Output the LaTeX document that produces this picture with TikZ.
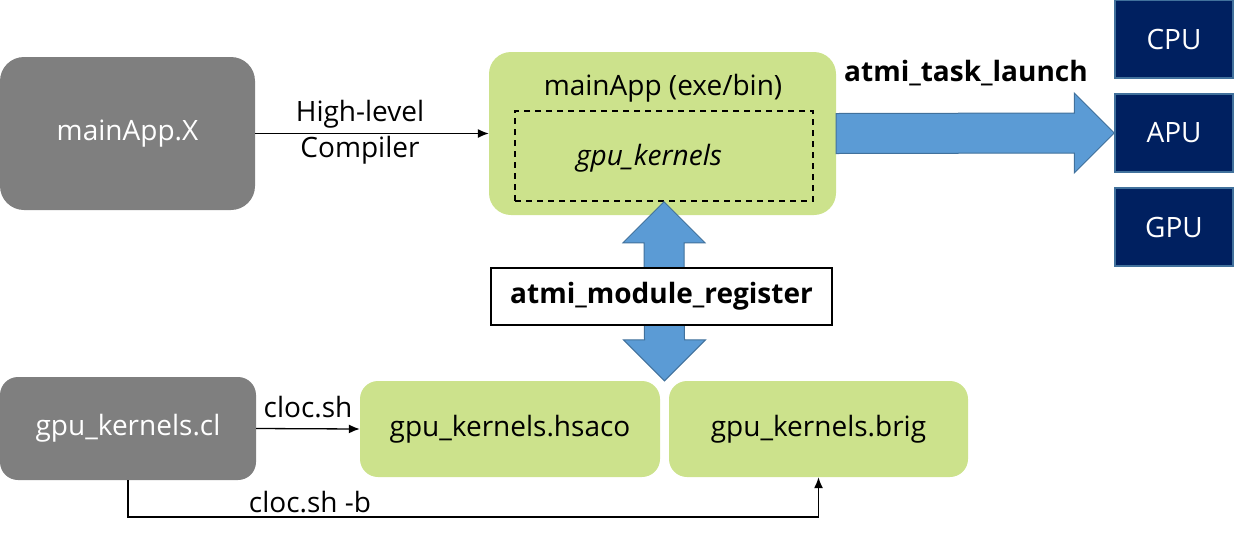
\documentclass[tikz,border=0pt]{standalone}
\usepackage{fontspec}
\setmainfont{Open Sans}
\usetikzlibrary{calc,arrows.meta}
\definecolor{grn}{RGB}{204,226,140}
\definecolor{gry}{RGB}{127,127,127}
\definecolor{bfill}{RGB}{91,155,213}
\definecolor{bline}{RGB}{65,113,156}
\definecolor{navy}{RGB}{0,32,96}
\newcommand{\fs}{\fontsize{28}{36}\selectfont}
\tikzset{
  graybox/.style={fill=gry, draw=none, rounded corners=24pt, text=white, font=\fs},
  greenbox/.style={fill=grn, draw=none, rounded corners=22pt, font=\fs},
  devbox/.style={fill=navy, draw=bline, line width=1.5pt, text=white, minimum width=118pt, minimum height=78pt, font=\fs},
  bluearrow/.style={fill=bfill, draw=bline, line width=1pt, line join=miter},
  conn/.style={draw=black, line width=1.3pt, -{Latex[length=11pt,width=9pt]}},
  lbl/.style={font=\fs, inner sep=0pt},
}
\begin{document}
\begin{tikzpicture}[x=1pt,y=-1pt]
\useasboundingbox (0,0) rectangle (1235,542);
% boxes
\node[graybox, minimum width=255pt, minimum height=153pt] (src) at (127.5,133.5) {mainApp.X};
\node[greenbox, minimum width=347pt, minimum height=163pt] (main) at (662.5,133.5) {};
\node[lbl] (maintxt) at (663,88) {mainApp (exe/bin)};
\node[draw=black, dashed, dash pattern=on 6pt off 5pt, line width=1.5pt, minimum width=298pt, minimum height=90pt, inner sep=0pt] (inner) at (664,156) {};
\node[lbl, font=\fs\itshape] (innertxt) at (649,158) {gpu\_kernels};
\node[devbox] (cpu) at (1174,39) {CPU};
\node[devbox] (apu) at (1174,133) {APU};
\node[devbox] (gpu) at (1174,227) {GPU};
\node[graybox, rounded corners=18pt, minimum width=256pt, minimum height=103pt] (cl) at (128,428.5) {gpu\_kernels.cl};
\node[greenbox, rounded corners=18pt, minimum width=300pt, minimum height=96pt] (hsaco) at (510,429) {gpu\_kernels.hsaco};
\node[greenbox, rounded corners=18pt, minimum width=299pt, minimum height=96pt] (brig) at (818.5,429) {gpu\_kernels.brig};
% high-level compiler
\draw[conn] (src.east) -- (main.west);
\node[lbl, align=center] (hlc) at (360,132) {High-level\\Compiler};
% big arrow to devices
\path (main.east) coordinate (ta) (apu.west) coordinate (tb);
\draw[bluearrow] ($(ta)+(0,-20)$) -- ($(tb)+(-40,-20)$) -- ($(tb)+(-40,-40)$) -- (tb) -- ($(tb)+(-40,40)$) -- ($(tb)+(-40,20)$) -- ($(ta)+(0,20)$) -- cycle;
\node[lbl, font=\fs\bfseries] (tl) at (966,73) {atmi\_task\_launch};
% double arrow
\path (inner.south) coordinate (T) ($(hsaco.north east)!0.5!(brig.north west)$) coordinate (B);
\draw[bluearrow] (T) -- ($(T)+(41,41)$) -- ($(T)+(20,41)$) -- ($(B)+(20,-41)$) -- ($(B)+(41,-41)$) -- (B) -- ($(B)+(-41,-41)$) -- ($(B)+(-20,-41)$) -- ($(T)+(-20,41)$) -- ($(T)+(-41,41)$) -- cycle;
\node[draw=black, fill=white, line width=1.5pt, minimum width=341pt, minimum height=57pt, font=\fs\bfseries] (reg) at (661.5,296.5) {atmi\_module\_register};
% cloc.sh
\draw[conn] (cl.east) -- (hsaco.west);
\node[lbl] (c1) at (308,407) {cloc.sh};
\coordinate (corner1) at (cl.south |- 0,517);
\draw[conn] (cl.south) -- (corner1) -| (brig.south);
\node[lbl] (c2) at (310,502) {cloc.sh -b};
\end{tikzpicture}
\end{document}
